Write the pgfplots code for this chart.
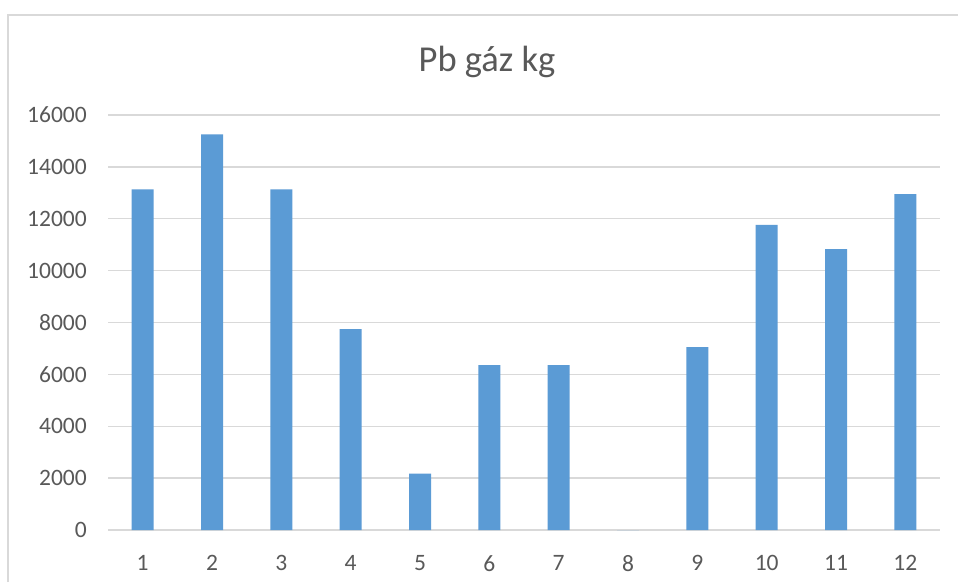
\documentclass[border=0pt]{standalone}
\usepackage{fontspec}
\setmainfont{Carlito}
\usepackage{pgfplots}
\pgfplotsset{compat=1.18}
\definecolor{barblue}{HTML}{5B9BD5}
\definecolor{gridgray}{HTML}{D9D9D9}
\definecolor{txt}{HTML}{595959}
\begin{document}
\begin{tikzpicture}[x=1pt,y=1pt]
\useasboundingbox (0,0) rectangle (958,582);
\fill[white] (0,0) rectangle (958,582);
\draw[gridgray, line width=1.5pt] (8,0) -- (8,567) -- (958,567);
\node[text=txt, font=\fontsize{36.5}{40}\selectfont] at (487,520) {Pb gáz kg};
\begin{axis}[
  at={(108pt,52pt)}, anchor=south west,
  width=832pt, height=415pt, scale only axis,
  ymin=0, ymax=16000, ytick={0,2000,...,16000},
  xmin=0.5, xmax=12.5, xtick={1,...,12},
  axis line style={draw=none},
  major tick length=0pt,
  ymajorgrids,
  grid style={gridgray, line width=1.4pt},
  /pgf/number format/assume math mode=true,
  /pgf/number format/1000 sep={},
  tick label style={text=txt, font=\fontsize{23.5}{28}\selectfont},
  yticklabel style={inner sep=0pt, xshift=-21pt},
  xticklabel style={inner sep=0pt, yshift=-25pt},
  scaled y ticks=false,
  clip=false,
]
\addplot[ybar, bar width=22pt, fill=barblue, draw=none] coordinates {
(1,13130) (2,15250) (3,13130) (4,7740) (5,2170) (6,6360)
(7,6360) (8,0) (9,7050) (10,11760) (11,10830) (12,12950)
};
\end{axis}
\end{tikzpicture}
\end{document}
